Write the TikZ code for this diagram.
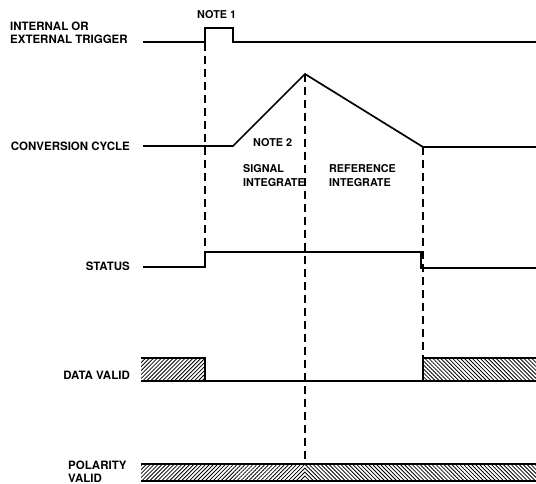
\documentclass[tikz,border=0pt]{standalone}
\usepackage{fontspec}
\setmainfont{TeX Gyre Heros}
\usetikzlibrary{positioning, patterns.meta}

\begin{document}
\begin{tikzpicture}[
        x=1pt, y=-1pt,
        signal/.style={line width=1.7pt, line join=miter},
        guide/.style={line width=1.1pt, dash pattern=on 8pt off 5pt},
        signame/.style={font=\fontsize{11.5}{13}\selectfont\bfseries, inner sep=0pt, anchor=east, align=right},
        note/.style={font=\fontsize{10.8}{14}\selectfont\bfseries, inner sep=0pt, anchor=west, align=left},
        hatchup/.style={pattern={Lines[angle=45, distance=2.8pt, line width=0.8pt]}},
        hatchdown/.style={pattern={Lines[angle=-45, distance=2.8pt, line width=0.8pt]}}
    ]
        \useasboundingbox (0,0) rectangle (536,484);

        % signal names
        \node[signame, anchor=south west, align=left] (trig) at (10,44) {INTERNAL OR\\EXTERNAL TRIGGER};
        \node[signame] (conv) at (130,146) {CONVERSION CYCLE};
        \node[signame] (status) at (130,266) {STATUS};
        \node[signame] (valid) at (130,375) {DATA VALID};
        \node[signame, anchor=west, align=left] (polarity) at (68,472) {POLARITY\\VALID};

        % notes
        \node[note] (note1) at (197,15) {NOTE 1};
        \node[note] (note2) at (253,143) {NOTE 2};
        \node[note] (signal) at (243,176) {SIGNAL\\INTEGRATE};
        \node[note] (reference) at (329,176) {REFERENCE\\INTEGRATE};

        % edges of the conversion
        \coordinate (trig rise) at (205,43);
        \coordinate (peak) at (305,74);
        \coordinate (ramp end) at (423,147);
        \coordinate (status rise) at (205,252);
        \coordinate (valid rise) at (423,358);
        \coordinate (polarity top) at (305,464);

        % trigger
        \draw[signal] (143,42) -- (205,42) -- (205,28) -- (233,28) -- (233,42) -- (536,42);
        % conversion cycle
        \draw[signal] (143,146) -- (233,146) -- (peak) -- (ramp end) -- (536,147);
        % status
        \draw[signal] (143,267) -- (205,267) -- (status rise) -- (421,252) -- (421,268) -- (536,268);

        % data valid
        \fill[hatchup] (141,358) rectangle (205,381);
        \fill[hatchdown] (valid rise) rectangle (536,381);
        \draw[signal] (141,358) -- (205,358) -- (205,381);
        \draw[signal] (141,381) -- (536,381);
        \draw[signal] (423,381) -- (valid rise) -- (536,358);

        % polarity valid
        \fill[hatchup] (141,464) rectangle (305,481);
        \fill[hatchdown] (polarity top) rectangle (536,481);
        \draw[signal] (141,464) -- (536,464);
        \draw[signal] (141,481) -- (536,481);

        % timing guides
        \draw[guide] (trig rise) -- (status rise);
        \draw[guide] (peak) -- (polarity top);
        \draw[guide] (ramp end) -- (valid rise);
    \end{tikzpicture}
\end{document}
